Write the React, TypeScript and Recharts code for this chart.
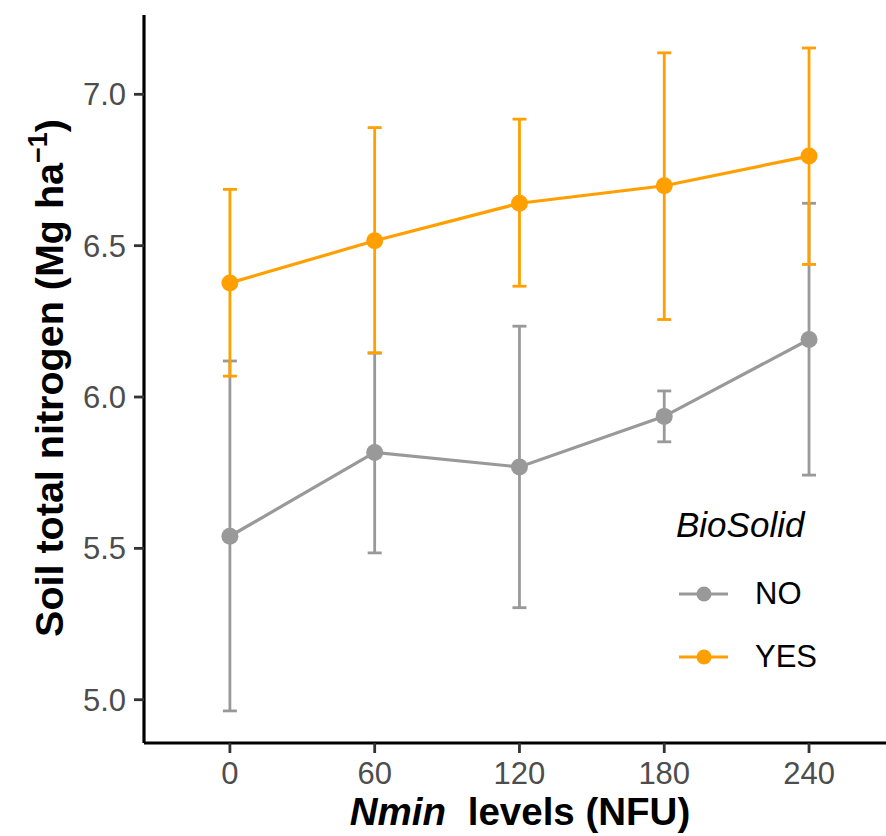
import React from 'react';
import { LineChart, Line, XAxis, YAxis, ErrorBar, Label } from 'recharts';

// Nmin levels (NFU)
const levels = [0, 60, 120, 180, 240];

// BioSolid = NO
const noMean = [5.54, 5.817, 5.769, 5.936, 6.19];
const noLow = [4.963, 5.485, 5.304, 5.852, 5.742];
const noHigh = [6.119, 6.145, 6.234, 6.02, 6.64];

// BioSolid = YES
const yesMean = [6.377, 6.516, 6.64, 6.698, 6.796];
const yesLow = [6.069, 6.146, 6.366, 6.256, 6.438];
const yesHigh = [6.686, 6.89, 6.918, 7.137, 7.153];

const yTicks = [5.0, 5.5, 6.0, 6.5, 7.0];

const GREY = '#999999';
const ORANGE = '#FFA000';
const FONT = '"Liberation Sans", Arial, Helvetica, sans-serif';

const series = [
  { key: 'no', name: 'NO', color: GREY },
  { key: 'yes', name: 'YES', color: ORANGE },
];

const data = levels.map((level, i) => ({
  level,
  no: noMean[i],
  noErr: [noMean[i] - noLow[i], noHigh[i] - noMean[i]],
  yes: yesMean[i],
  yesErr: [yesMean[i] - yesLow[i], yesHigh[i] - yesMean[i]],
}));

const YTitle = (props: any) => {
  const vb = props.viewBox || {};
  const cy = vb.y + vb.height / 2 - 1;
  const cx = 63;
  return (
    <text
      x={cx}
      y={cy}
      transform={`rotate(-90, ${cx}, ${cy})`}
      textAnchor="middle"
      fontFamily={FONT}
      fontSize={39.5}
      fontWeight="bold"
      fill="#000"
    >
      Soil total nitrogen (Mg ha
      <tspan fontSize={27} dy={-16}>−1</tspan>
      <tspan dy={16}>)</tspan>
    </text>
  );
};

const XTitle = () => (
  <text x={520} y={825} textAnchor="middle" fontFamily={FONT} fontSize={38.5} fontWeight="bold" fill="#000">
    <tspan fontStyle="italic">Nmin</tspan>
    <tspan dx={11}> levels (NFU)</tspan>
  </text>
);

const LegendBox = () => (
  <div style={{ position: 'absolute', left: 676, top: 500, fontFamily: FONT }}>
    <div style={{ fontSize: 35, fontStyle: 'italic', lineHeight: '50px', color: '#000' }}>BioSolid</div>
    {series.map((s, i) => (
      <div
        key={s.key}
        style={{ position: 'absolute', left: 0, top: 76 + i * 62.5, height: 36, width: 200 }}
      >
        <svg width={60} height={36} style={{ position: 'absolute', left: 0, top: 0 }}>
          <line x1={3} x2={52} y1={18} y2={18} stroke={s.color} strokeWidth={3.2} />
          <circle cx={28} cy={18} r={7.5} fill={s.color} />
        </svg>
        <span style={{ position: 'absolute', left: 79, top: 0, fontSize: 31, lineHeight: '36px', color: '#000' }}>
          {s.name}
        </span>
      </div>
    ))}
  </div>
);

export default function App() {
  return (
    <div
      style={{
        position: 'absolute',
        left: 0,
        top: 0,
        width: 886,
        height: 836,
        background: '#fff',
        overflow: 'hidden',
      }}
    >
      <LineChart width={886} height={836} data={data} margin={{ top: 15, right: 0, bottom: 0, left: 0 }}>
        <XAxis
          dataKey="level"
          type="number"
          domain={[-35.6, 271.9]}
          ticks={levels}
          allowDataOverflow
          height={93}
          axisLine={{ stroke: '#000', strokeWidth: 3.2 }}
          tickLine={{ stroke: '#333', strokeWidth: 2.8 }}
          tickSize={10}
          tickMargin={9}
          tick={{ fill: '#4D4D4D', fontSize: 31, fontFamily: FONT }}
        >
          <Label content={<XTitle />} />
        </XAxis>
        <YAxis
          type="number"
          domain={[4.857, 7.262]}
          ticks={yTicks}
          allowDataOverflow
          width={144}
          axisLine={{ stroke: '#000', strokeWidth: 3.2 }}
          tickLine={{ stroke: '#333', strokeWidth: 2.8 }}
          tickSize={10}
          tickMargin={8}
          tickFormatter={(v: number) => v.toFixed(1)}
          tick={{ fill: '#4D4D4D', fontSize: 31, fontFamily: FONT }}
        >
          <Label content={<YTitle />} />
        </YAxis>
        {series.map((s) => (
          <Line
            key={s.key}
            dataKey={s.key}
            name={s.name}
            stroke={s.color}
            strokeWidth={3.2}
            dot={{ r: 8.5, fill: s.color, stroke: 'none' }}
            activeDot={false}
            isAnimationActive={false}
          >
            <ErrorBar
              dataKey={`${s.key}Err`}
              direction="y"
              width={7}
              stroke={s.color}
              strokeWidth={2.8}
              isAnimationActive={false}
            />
          </Line>
        ))}
      </LineChart>
      <LegendBox />
    </div>
  );
}
